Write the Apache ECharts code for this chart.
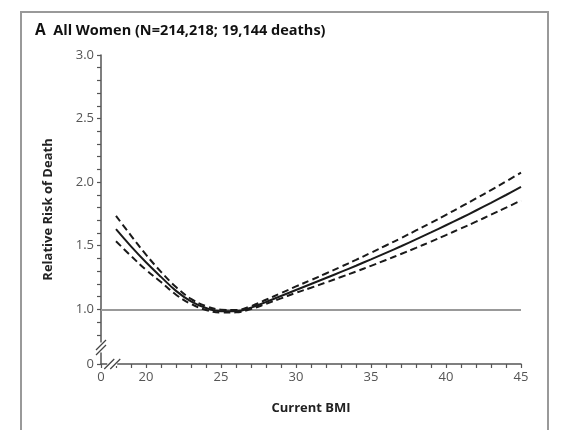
<!DOCTYPE html>
<html>
<head>
<meta charset="utf-8">
<script src="https://cdn.jsdelivr.net/npm/echarts@6/dist/echarts.min.js"></script>
<style>html,body{margin:0;padding:0;background:#fff;}#c{width:562px;height:430px;}</style>
</head>
<body>
<div id="c"></div>
<script>
// BMI values (x) and relative risk of death
const bmi      = [18, 19, 20, 21, 22, 23, 24, 25, 26, 27, 28, 29, 30, 31, 32, 33, 34, 35, 36, 37, 38, 39, 40, 41, 42, 43, 44, 45];
const rrCenter = [1.63, 1.495, 1.37, 1.255, 1.145, 1.062, 1.01, 0.985, 0.985, 1.013, 1.058, 1.105, 1.152, 1.199, 1.246, 1.294, 1.343, 1.393, 1.444, 1.496, 1.550, 1.605, 1.661, 1.718, 1.777, 1.837, 1.899, 1.963];
const rrUpper  = [1.735, 1.58, 1.43, 1.295, 1.175, 1.082, 1.025, 0.997, 0.995, 1.025, 1.075, 1.127, 1.18, 1.230, 1.282, 1.335, 1.389, 1.445, 1.502, 1.560, 1.620, 1.681, 1.743, 1.807, 1.872, 1.938, 2.006, 2.075];
const rrLower  = [1.535, 1.42, 1.31, 1.215, 1.115, 1.042, 0.995, 0.975, 0.976, 1.003, 1.043, 1.086, 1.13, 1.170, 1.211, 1.254, 1.297, 1.342, 1.388, 1.435, 1.483, 1.533, 1.584, 1.636, 1.689, 1.744, 1.799, 1.856];
const xTickLabels = [20, 25, 30, 35, 40, 45];
const yTickLabels = [1.0, 1.5, 2.0, 2.5, 3.0];
const titleText = 'All Women (N=214,218; 19,144 deaths)';
const panelLetter = 'A';
// broken axes: the "0" tick sits at these positions
const xZeroAt = 17;
const yZeroAt = 0.57;

const pair = a => bmi.map((b, i) => [b, a[i]]);
const yMinor = [];
for (let v = 8; v <= 30; v++) yMinor.push(v / 10);

const chart = echarts.init(document.getElementById('c'), null, {renderer: 'canvas'});
const lineC = '#1a1a1a';
const axisC = '#555';
const font = '"Open Sans", Lato, sans-serif';

chart.setOption({
  animation: false,
  backgroundColor: '#fff',
  title: {
    left: 30, top: 18,
    text: '{a|' + panelLetter + '}  ' + titleText,
    textStyle: {
      fontFamily: font, fontSize: 14.5, fontWeight: 'bold', color: '#111',
      rich: { a: { fontFamily: font, fontSize: 15.5, fontWeight: 'bold', color: '#111' } }
    }
  },
  grid: { left: 101, right: 41, top: 55, bottom: 66, containLabel: false },
  xAxis: {
    type: 'value', min: xZeroAt, max: 45, interval: 1,
    name: 'Current BMI', nameLocation: 'middle', nameGap: 38,
    nameTextStyle: { fontFamily: font, fontSize: 13, fontWeight: 'bold', color: '#222' },
    axisLine: { show: true, lineStyle: { color: axisC, width: 1.5 } },
    axisTick: { show: true, length: 4, lineStyle: { color: axisC, width: 1.2 } },
    axisLabel: {
      fontFamily: font, fontSize: 13, color: '#555', margin: 7,
      formatter: v => v === xZeroAt ? '0' : (xTickLabels.indexOf(v) >= 0 ? String(v) : '')
    },
    splitLine: { show: false }
  },
  yAxis: {
    type: 'value', min: yZeroAt, max: 3.0,
    name: 'Relative Risk of Death', nameLocation: 'middle', nameGap: 46, nameRotate: 90,
    nameTextStyle: { fontFamily: font, fontSize: 13, fontWeight: 'bold', color: '#222' },
    axisLine: { show: true, lineStyle: { color: axisC, width: 1.5 } },
    axisTick: { show: true, length: 4, customValues: [yZeroAt].concat(yMinor), lineStyle: { color: axisC, width: 1.2 } },
    axisLabel: {
      fontFamily: font, fontSize: 13, color: '#555', margin: 7,
      customValues: [yZeroAt].concat(yTickLabels),
      formatter: v => Math.abs(v - yZeroAt) < 1e-6 ? '0' : v.toFixed(1)
    },
    splitLine: { show: false }
  },
  series: [
    {
      type: 'line', data: pair(rrCenter), smooth: 0.4, showSymbol: false, z: 5,
      lineStyle: { color: lineC, width: 2 },
      markLine: {
        silent: true, symbol: 'none', label: { show: false },
        lineStyle: { color: '#999', width: 2, type: 'solid' },
        data: [{ yAxis: 1.0 }], z: 1
      }
    },
    {
      type: 'line', data: pair(rrUpper), smooth: 0.4, showSymbol: false, z: 5,
      lineStyle: { color: lineC, width: 2, type: [7, 4] }
    },
    {
      type: 'line', data: pair(rrLower), smooth: 0.4, showSymbol: false, z: 5,
      lineStyle: { color: lineC, width: 2, type: [7, 4] }
    }
  ]
});

// decorations: frame and axis break marks
const yb = chart.convertToPixel({gridIndex: 0}, [xZeroAt, 0.70]);
const xb = chart.convertToPixel({gridIndex: 0}, [17.75, yZeroAt]);
const slash = (cx, cy) => ({
  type: 'line', shape: { x1: cx - 5, y1: cy + 5, x2: cx + 5, y2: cy - 5 },
  style: { stroke: '#444', lineWidth: 1.3 }, z: 100
});
chart.setOption({
  graphic: [
    { type: 'polyline', shape: { points: [[21, 430], [21, 12], [548, 12], [548, 430]] },
      style: { stroke: '#999', lineWidth: 2, fill: null }, z: 100 },
    { type: 'rect', shape: { x: yb[0] - 2, y: yb[1] - 5, width: 4, height: 10 }, style: { fill: '#fff' }, z: 99 },
    slash(yb[0], yb[1] - 2.5), slash(yb[0], yb[1] + 2.5),
    { type: 'rect', shape: { x: xb[0] - 5, y: xb[1] - 2, width: 10, height: 4 }, style: { fill: '#fff' }, z: 99 },
    slash(xb[0] - 3, xb[1]), slash(xb[0] + 3, xb[1])
  ]
});
</script>
</body>
</html>
